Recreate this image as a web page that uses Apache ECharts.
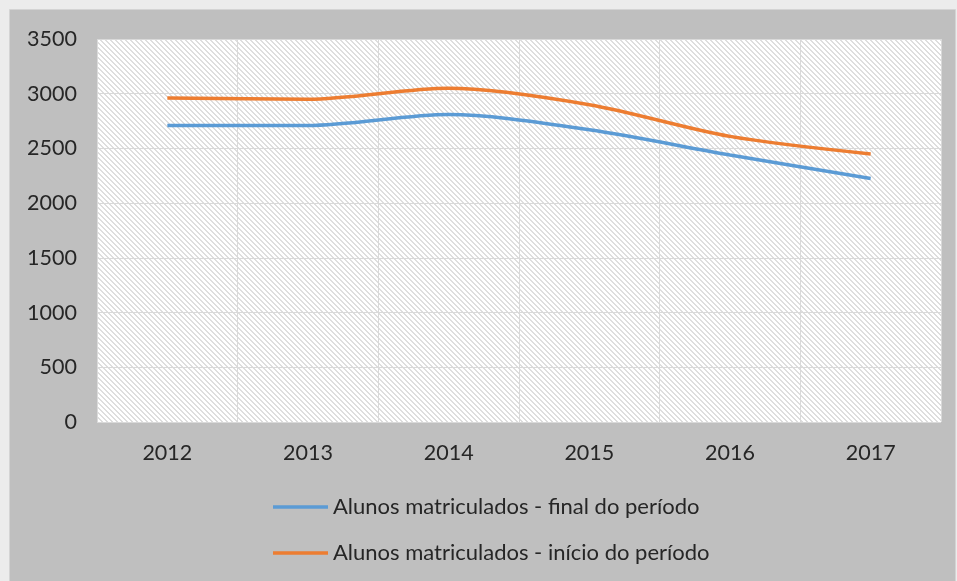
<!DOCTYPE html>
<html>
<head>
<meta charset="utf-8">
<script src="https://cdn.jsdelivr.net/npm/echarts@6/dist/echarts.min.js"></script>
<style>
html,body{margin:0;padding:0;background:#ececec;}
#chart{width:957px;height:581px;}
</style>
</head>
<body>
<div id="chart"></div>
<script>
var categories = ['2012', '2013', '2014', '2015', '2016', '2017'];
var finalPeriodo = [2710, 2710, 2810, 2670, 2440, 2225];
var inicioPeriodo = [2960, 2950, 3050, 2900, 2610, 2450];
var seriesNames = ['Alunos matriculados - final do período', 'Alunos matriculados - início do período'];
var yTicks = [0, 500, 1000, 1500, 2000, 2500, 3000, 3500];

function makePattern() {
  var c = document.createElement('canvas');
  c.width = 10; c.height = 10;
  var ctx = c.getContext('2d');
  ctx.fillStyle = '#ffffff';
  ctx.fillRect(0, 0, 10, 10);
  ctx.fillStyle = '#dedede';
  for (var y = 0; y < 10; y++) {
    for (var x = 0; x < 10; x++) {
      var d = ((x - y) % 5 + 5) % 5;
      if (d === 0 || d === 1) ctx.fillRect(x, y, 1, 1);
    }
  }
  return c;
}

var chart = echarts.init(document.getElementById('chart'), null, {renderer: 'canvas'});
var font = 'Lato';
var txt = '#262626';
var option = {
  backgroundColor: '#ececec',
  animation: false,
  graphic: [{
    type: 'rect',
    left: 9, top: 9, z: -10,
    shape: {width: 946, height: 572},
    style: {fill: '#bfbfbf', stroke: '#d4d4d4', lineWidth: 1}
  }],
  grid: {
    left: 97, top: 39, right: 16, bottom: 159,
    show: true,
    backgroundColor: {image: makePattern(), repeat: 'repeat'},
    borderWidth: 0
  },
  legend: {
    orient: 'vertical',
    left: 273,
    top: 496,
    padding: 0,
    icon: 'rect',
    itemWidth: 55,
    itemHeight: 3.5,
    itemGap: 24,
    textStyle: {fontFamily: font, fontSize: 22, color: txt, lineHeight: 22},
    data: [
      {name: seriesNames[0], itemStyle: {color: '#5b9bd5'}},
      {name: seriesNames[1], itemStyle: {color: '#ed7d31'}}
    ]
  },
  xAxis: {
    type: 'category',
    data: categories,
    boundaryGap: true,
    axisLine: {show: false},
    axisTick: {show: false},
    axisLabel: {fontFamily: font, fontSize: 21.5, color: txt, margin: 20},
    splitLine: {show: true, lineStyle: {color: '#d9d9d9', width: 1}}
  },
  yAxis: {
    type: 'value',
    min: yTicks[0],
    max: yTicks[yTicks.length - 1],
    interval: 500,
    axisLine: {show: false},
    axisTick: {show: false},
    axisLabel: {fontFamily: font, fontSize: 21.5, color: txt, margin: 20,
      formatter: function (v) { return String(v); }},
    splitLine: {show: true, lineStyle: {color: '#d9d9d9', width: 1}}
  },
  series: [
    {
      name: seriesNames[0], type: 'line', data: finalPeriodo,
      smooth: 0.3, symbol: 'none',
      lineStyle: {color: '#5b9bd5', width: 3.5},
      itemStyle: {color: '#5b9bd5'}
    },
    {
      name: seriesNames[1], type: 'line', data: inicioPeriodo,
      smooth: 0.3, symbol: 'none',
      lineStyle: {color: '#ed7d31', width: 3.5},
      itemStyle: {color: '#ed7d31'}
    }
  ]
};
chart.setOption(option);
</script>
</body>
</html>
